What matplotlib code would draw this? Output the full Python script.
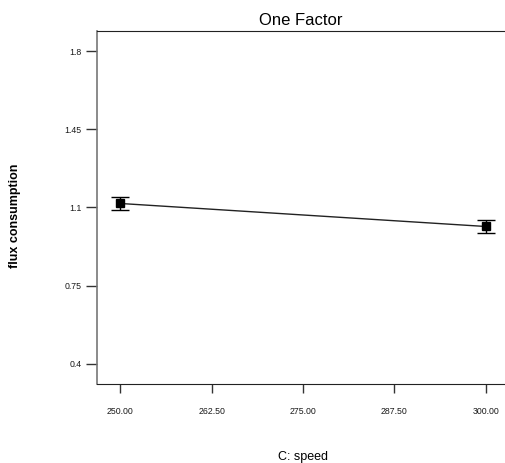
import matplotlib
matplotlib.use("Agg")
import matplotlib.pyplot as plt

# Factor levels and predicted response with error bar half-widths
speed = [250.0, 300.0]
flux = [1.118, 1.015]
flux_err = [0.031, 0.028]

x_ticks = [250.0, 262.5, 275.0, 287.5, 300.0]
x_tick_labels = ["250.00", "262.50", "275.00", "287.50", "300.00"]
y_ticks = [0.4, 0.75, 1.1, 1.45, 1.8]
y_tick_labels = ["0.4", "0.75", "1.1", "1.45", "1.8"]

plt.rcParams["font.family"] = ["Liberation Sans", "DejaVu Sans"]

fig = plt.figure(figsize=(5.05, 4.63), dpi=100)
ax = fig.add_axes([97 / 505, 1 - 384 / 463, 407 / 505, 353 / 463])

ax.plot(speed, flux, color="#222222", lw=1.0, zorder=2)
ax.errorbar(speed, flux, yerr=flux_err, fmt="s", color="black",
            ms=6.0, capsize=6.5, capthick=1.0, elinewidth=1.0, zorder=3)

ax.set_xlim(246.8, 302.5)
ax.set_ylim(0.31, 1.89)
ax.set_xticks(x_ticks)
ax.set_xticklabels(x_tick_labels)
ax.set_yticks(y_ticks)
ax.set_yticklabels(y_tick_labels)

ax.tick_params(axis="x", direction="out", length=6.3, width=1.0, pad=10,
               labelsize=6.3, color="#333333", labelcolor="#1a1a1a")
ax.tick_params(axis="y", direction="out", length=8, width=1.0, pad=3,
               labelsize=6.3, color="#333333", labelcolor="#1a1a1a")

ax.spines["right"].set_visible(False)
ax.spines["left"].set_color("#777777")
ax.spines["left"].set_linewidth(1.2)
ax.spines["bottom"].set_color("#222222")
ax.spines["top"].set_color("#222222")

ax.set_title("One Factor", fontsize=12, pad=4)
ax.set_xlabel("C: speed", fontsize=9)
ax.xaxis.set_label_coords(0.505, (384 - 451) / 353)
ax.set_ylabel("flux consumption", fontsize=9, fontweight="bold", va="center")
ax.yaxis.set_label_coords((15 - 97) / 407, (384 - 216) / 353)

fig.savefig("out.png", dpi=100)
